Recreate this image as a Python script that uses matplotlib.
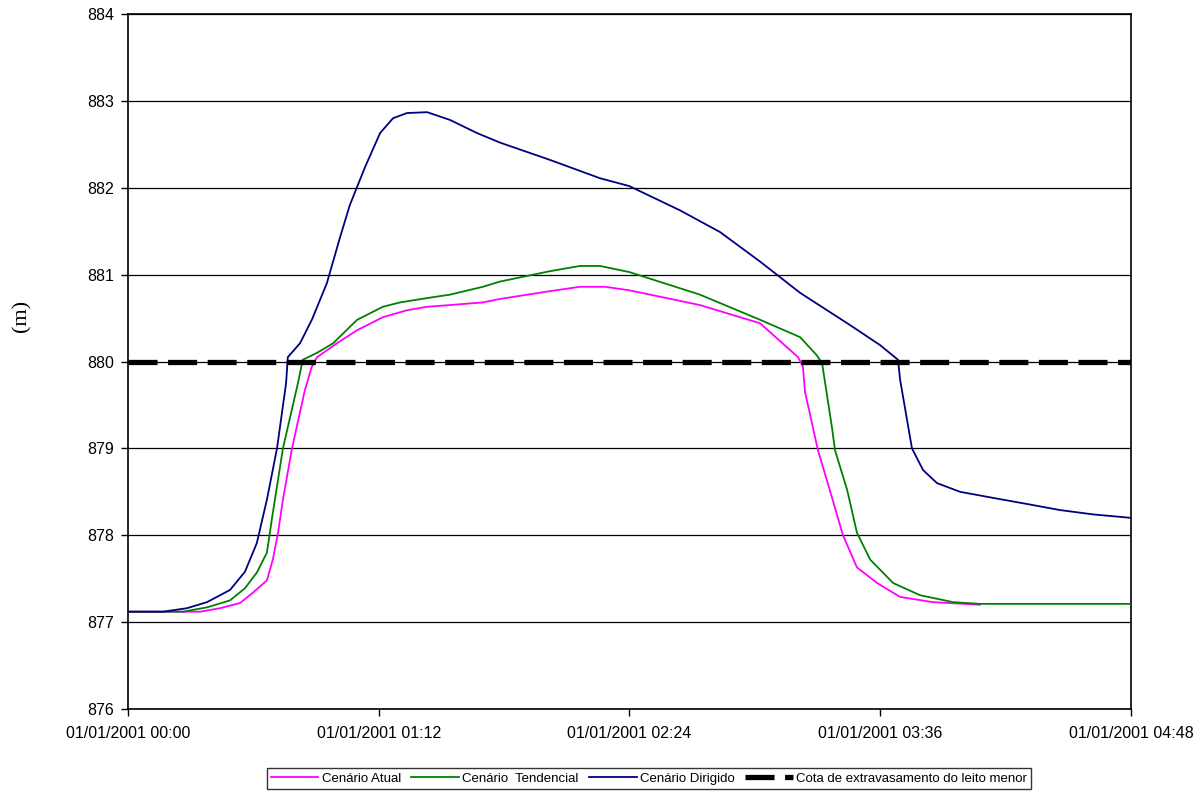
import matplotlib
matplotlib.use("Agg")
import matplotlib.pyplot as plt

# tempo em minutos desde 01/01/2001 00:00, cota em m
t_atual = [0, 15.8, 20.7, 26.4, 32.2, 35.9, 39.9, 41.6, 43.1, 44.5, 47.1, 50.8, 52.8, 54.3,
           60.0, 65.8, 73.2, 80.1, 85.9, 92.5, 101.9, 106.8, 121.2, 129.8, 137.0, 143.9,
           164.2, 181.5, 192.4, 193.8, 194.4, 198.1, 202.1, 205.3, 209.3, 215.1, 221.7,
           231.1, 244.6]
h_atual = [877.12, 877.12, 877.12, 877.16, 877.22, 877.34, 877.48, 877.72, 878.03, 878.41,
           879.0, 879.67, 879.94, 880.05, 880.21, 880.36, 880.51, 880.59, 880.63, 880.65,
           880.68, 880.72, 880.81, 880.86, 880.86, 880.82, 880.65, 880.44, 880.05, 879.94,
           879.65, 878.98, 878.44, 878.0, 877.63, 877.45, 877.29, 877.23, 877.2]

t_tend = [0, 10.0, 15.8, 22.7, 29.3, 33.6, 37.0, 39.9, 41.3, 44.5, 48.8, 50.2, 54.3, 58.9,
          65.8, 73.2, 78.1, 85.9, 92.5, 101.9, 106.8, 121.2, 129.8, 135.5, 143.9, 164.2,
          181.5, 193.0, 197.8, 199.3, 202.1, 203.0, 206.5, 209.3, 213.1, 219.7, 227.4,
          236.9, 244.6, 288]
h_tend = [877.12, 877.12, 877.12, 877.17, 877.25, 877.39, 877.57, 877.80, 878.18, 879.0,
          879.75, 880.02, 880.10, 880.21, 880.48, 880.63, 880.68, 880.73, 880.77, 880.86,
          880.92, 881.04, 881.10, 881.10, 881.03, 880.77, 880.48, 880.28, 880.07, 879.98,
          879.25, 878.98, 878.52, 878.03, 877.72, 877.45, 877.31, 877.23, 877.21, 877.21]

t_dir = [0, 10.0, 16.9, 22.7, 29.3, 33.6, 37.0, 39.9, 42.8, 45.4, 45.9, 49.4, 52.8, 57.1,
         60.9, 63.7, 68.1, 72.4, 76.1, 80.1, 85.9, 92.5, 100.2, 106.8, 121.2, 135.5, 143.9,
         158.5, 170.0, 181.5, 193.0, 207.3, 215.9, 221.1, 221.7, 225.1, 228.3, 232.3, 238.9,
         248.4, 258.1, 267.6, 277.1, 288]
h_dir = [877.12, 877.12, 877.16, 877.23, 877.37, 877.58, 877.91, 878.41, 879.0, 879.75,
         880.05, 880.21, 880.48, 880.90, 881.43, 881.80, 882.24, 882.63, 882.80, 882.86,
         882.87, 882.78, 882.63, 882.52, 882.32, 882.11, 882.02, 881.74, 881.49, 881.15,
         880.79, 880.42, 880.19, 880.02, 879.79, 879.0, 878.75, 878.60, 878.50, 878.43,
         878.36, 878.29, 878.24, 878.20]

cota_leito = 880.0

x_ticks = [0, 72, 144, 216, 288]
x_labels = ["01/01/2001 00:00", "01/01/2001 01:12", "01/01/2001 02:24",
            "01/01/2001 03:36", "01/01/2001 04:48"]
y_ticks = [876, 877, 878, 879, 880, 881, 882, 883, 884]

plt.rcParams["font.family"] = ["Liberation Sans", "DejaVu Sans"]

fig = plt.figure(figsize=(11.98, 7.96), dpi=100)
ax = fig.add_axes([0.1068, 0.1093, 0.8373, 0.8731])

for y in y_ticks:
    ax.axhline(y, color="black", lw=0.9, zorder=1)

ax.plot(t_atual, h_atual, color="#FF00FF", lw=1.3, label="Cenário Atual", zorder=2)
ax.plot(t_tend, h_tend, color="#008000", lw=1.3, label="Cenário  Tendencial", zorder=3)
ax.plot(t_dir, h_dir, color="#000080", lw=1.3, label="Cenário Dirigido", zorder=4)
ax.plot([0, 288], [cota_leito, cota_leito], color="black", lw=3.8,
        dashes=(5.5, 2), dash_capstyle="butt",
        label="Cota de extravasamento do leito menor", zorder=5)

ax.set_xlim(0, 288)
ax.set_ylim(876, 884)
ax.set_xticks(x_ticks)
ax.set_xticklabels(x_labels)
ax.set_yticks(y_ticks)
ax.tick_params(axis="both", direction="out", length=5, width=1, labelsize=11.5, colors="black")
ax.tick_params(axis="x", pad=7)
ax.tick_params(axis="y", pad=5)
for s in ax.spines.values():
    s.set_linewidth(1.2)
    s.set_color("black")

fig.text(22 / 1198, 1 - 316 / 796, "(m)", family="Liberation Serif", fontsize=16,
         rotation=90, ha="center", va="center")

leg = ax.legend(loc="center", bbox_to_anchor=(0.5194, -0.1), ncol=4, fontsize=9.5,
                frameon=True, fancybox=False, handlelength=3.6, handletextpad=0.25,
                columnspacing=0.8, borderpad=0.3, borderaxespad=0)
leg.get_frame().set_edgecolor("black")
leg.get_frame().set_linewidth(1.0)

fig.savefig("out.png", dpi=100)
